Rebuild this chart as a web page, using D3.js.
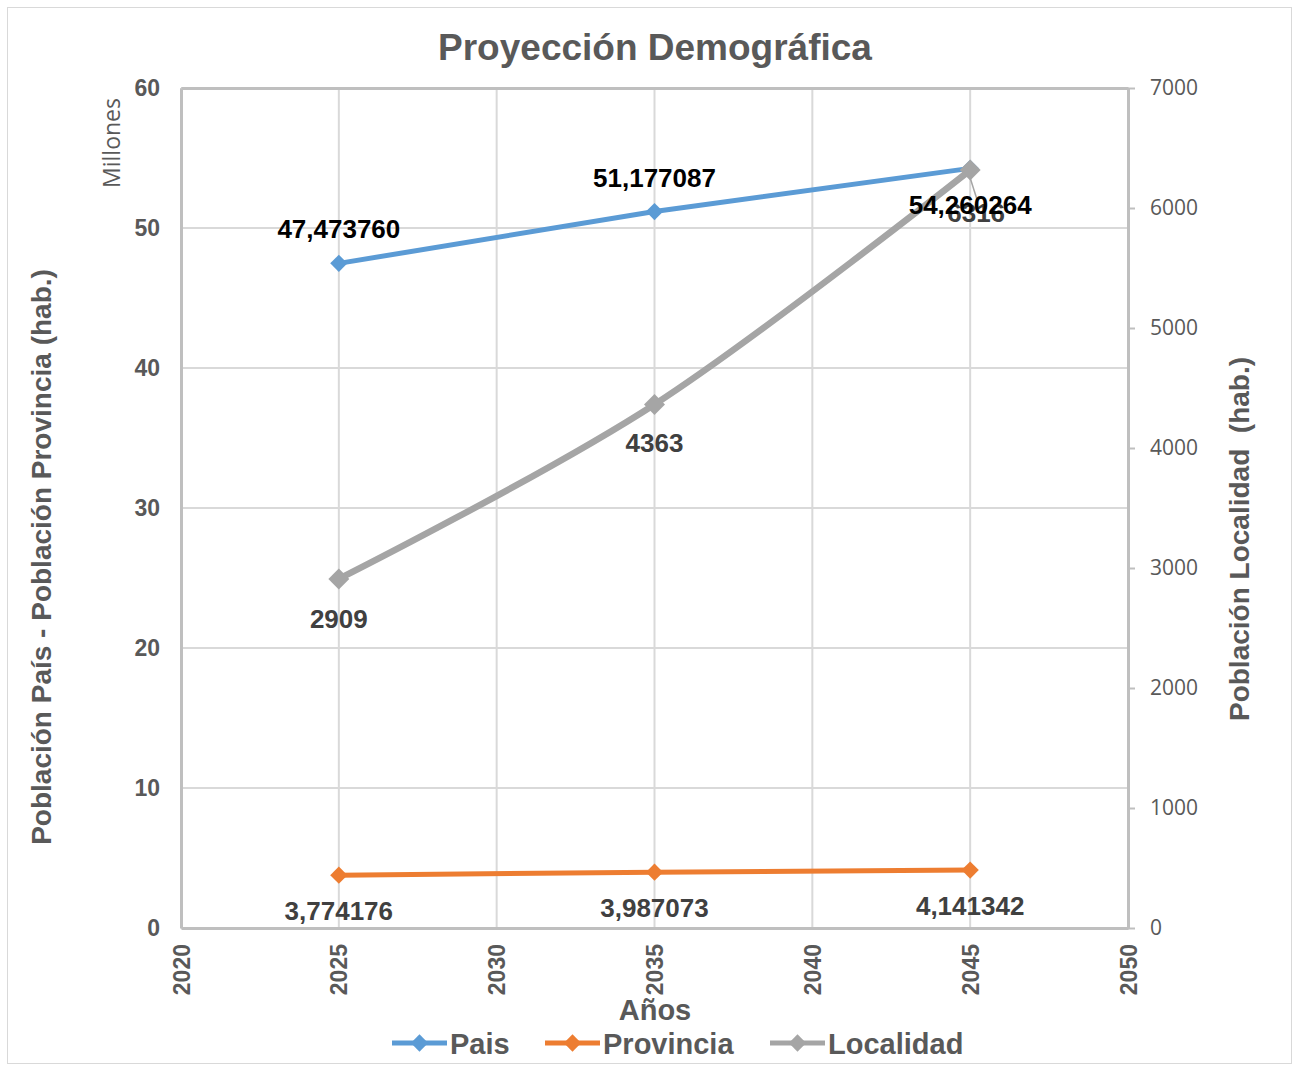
<!DOCTYPE html>
<html><head><meta charset="utf-8">
<script src="https://cdn.jsdelivr.net/npm/d3@7"></script>
<style>body{margin:0;background:#fff}svg{display:block}</style>
</head><body>
<svg id="c" width="1298" height="1066"></svg>
<script>
const years = [2025, 2035, 2045];
const pais = [47.473760, 51.177087, 54.260264];
const provincia = [3.774176, 3.987073, 4.141342];
const localidad = [2909, 4363, 6316];
const paisLabels = ["47,473760", "51,177087", "54,260264"];
const provLabels = ["3,774176", "3,987073", "4,141342"];
const locLabels = ["2909", "4363", "6316"];
const xTicks = [2020, 2025, 2030, 2035, 2040, 2045, 2050];
const yLeftTicks = [0, 10, 20, 30, 40, 50, 60];
const yRightTicks = [0, 1000, 2000, 3000, 4000, 5000, 6000, 7000];

const svg = d3.select("#c");
const L = 181, R = 1128, T = 88, B = 928;
const x = d3.scaleLinear().domain([2020, 2050]).range([L, R]);
const yL = d3.scaleLinear().domain([0, 60]).range([B, T]);
const yR = d3.scaleLinear().domain([0, 7000]).range([B, T]);
const grey = "#595959";
const bold = "'Liberation Sans', Arial, sans-serif";

// outer frame
svg.append("rect").attr("x", 7.5).attr("y", 7.5).attr("width", 1284).attr("height", 1056)
  .attr("fill", "#fff").attr("stroke", "#d9d9d9").attr("stroke-width", 1);

// gridlines
svg.append("g").selectAll("line").data(yLeftTicks).join("line")
  .attr("x1", L).attr("x2", R).attr("y1", d => yL(d)).attr("y2", d => yL(d))
  .attr("stroke", "#d9d9d9").attr("stroke-width", 2);
svg.append("g").selectAll("line").data(xTicks).join("line")
  .attr("y1", T).attr("y2", B).attr("x1", d => x(d)).attr("x2", d => x(d))
  .attr("stroke", "#d9d9d9").attr("stroke-width", 2);

// axes
const axL = svg.append("g").attr("transform", `translate(${L},0)`)
  .call(d3.axisLeft(yL).tickValues(yLeftTicks).tickSize(0).tickPadding(21));
axL.select(".domain").attr("stroke", "#bfbfbf").attr("stroke-width", 3);
axL.selectAll("text").attr("font-family", bold).attr("font-weight", "bold")
  .attr("font-size", 23).attr("fill", grey);

const axT = svg.append("g").attr("transform", `translate(0,${T})`)
  .call(d3.axisTop(x).tickValues([]).tickSize(0));
axT.select(".domain").attr("stroke", "#bfbfbf").attr("stroke-width", 3);

const axR = svg.append("g").attr("transform", `translate(${R},0)`)
  .call(d3.axisRight(yR).tickValues(yRightTicks).tickFormat(d3.format("d"))
    .tickSize(7).tickSizeOuter(0).tickPadding(15));
axR.select(".domain").attr("stroke", "#bfbfbf").attr("stroke-width", 3);
axR.selectAll("line").attr("stroke", "#bfbfbf").attr("stroke-width", 2);
axR.selectAll("text").attr("font-family", "'Open Sans', sans-serif")
  .attr("font-size", 21).attr("fill", grey);

const axB = svg.append("g").attr("transform", `translate(0,${B})`)
  .call(d3.axisBottom(x).tickValues(xTicks).tickFormat(d3.format("d")).tickSize(0));
axB.select(".domain").attr("stroke", "#bfbfbf").attr("stroke-width", 3);
axB.selectAll("text").attr("font-family", bold).attr("font-weight", "bold")
  .attr("font-size", 23).attr("fill", grey)
  .attr("transform", "rotate(-90)").attr("text-anchor", "end")
  .attr("x", -16).attr("y", 0).attr("dy", "0.35em");

// titles
svg.append("text").attr("x", 655).attr("y", 60).attr("text-anchor", "middle")
  .attr("font-family", bold).attr("font-weight", "bold").attr("font-size", 37)
  .attr("fill", grey).text("Proyección Demográfica");
svg.append("text").attr("transform", "translate(51,557) rotate(-90)").attr("text-anchor", "middle")
  .attr("font-family", bold).attr("font-weight", "bold").attr("font-size", 28)
  .attr("fill", grey).text("Población País - Población Provincia (hab.)");
svg.append("text").attr("transform", "translate(1249,539) rotate(-90)").attr("text-anchor", "middle")
  .attr("font-family", bold).attr("font-weight", "bold").attr("font-size", 28)
  .attr("fill", grey).style("white-space", "pre").text("Población Localidad  (hab.)");
svg.append("text").attr("transform", "translate(120,143) rotate(-90)").attr("text-anchor", "middle")
  .attr("font-family", "'Open Sans', sans-serif").attr("font-size", 23)
  .attr("fill", grey).text("Millones");
svg.append("text").attr("x", 655).attr("y", 1020).attr("text-anchor", "middle")
  .attr("font-family", bold).attr("font-weight", "bold").attr("font-size", 29)
  .attr("fill", grey).text("Años");

const diamond = d3.symbol().type(d3.symbolDiamond2);
function series(vals, yScale, color, width, curve, msize) {
  const line = d3.line().x((d, i) => x(years[i])).y(d => yScale(d)).curve(curve);
  svg.append("path").datum(vals).attr("d", line).attr("fill", "none")
    .attr("stroke", color).attr("stroke-width", width).attr("stroke-linejoin", "round");
  svg.append("g").selectAll("path").data(vals).join("path")
    .attr("transform", (d, i) => `translate(${x(years[i])},${yScale(d)})`)
    .attr("d", diamond.size(msize)).attr("fill", color);
}
series(pais, yL, "#5b9bd5", 5, d3.curveLinear, 190);
series(provincia, yL, "#ed7d31", 5, d3.curveLinear, 190);
series(localidad, yR, "#a5a5a5", 6.5, d3.curveCardinal.tension(0), 280);

// leader line for 6316
svg.append("line").attr("x1", x(2045)).attr("y1", yR(localidad[2]) + 8)
  .attr("x2", x(2045) + 7).attr("y2", yR(localidad[2]) + 30)
  .attr("stroke", "#a5a5a5").attr("stroke-width", 1.5);

// label offsets (layout)
const locOff = [[0, 49], [0, 48], [6, 52]];
const paisOff = [[0, -25], [0, -25], [0, 46]];
const provOff = [[0, 45], [0, 45], [0, 45]];
function labels(vals, yScale, texts, off, color) {
  svg.append("g").selectAll("text").data(vals).join("text")
    .attr("x", (d, i) => x(years[i]) + off[i][0])
    .attr("y", (d, i) => yScale(d) + off[i][1])
    .attr("text-anchor", "middle").attr("font-family", bold).attr("font-weight", "bold")
    .attr("font-size", 26).attr("fill", color).text((d, i) => texts[i]);
}
labels(localidad, yR, locLabels, locOff, "#404040");
labels(pais, yL, paisLabels, paisOff, "#000");
labels(provincia, yL, provLabels, provOff, "#404040");

// legend
const legend = [["Pais", "#5b9bd5", 392], ["Provincia", "#ed7d31", 545], ["Localidad", "#a5a5a5", 770]];
const lg = svg.append("g").selectAll("g").data(legend).join("g")
  .attr("transform", d => `translate(${d[2]},1043)`);
lg.append("line").attr("x1", 0).attr("x2", 55).attr("stroke", d => d[1]).attr("stroke-width", 5);
lg.append("path").attr("transform", "translate(27.5,0)").attr("d", diamond.size(190)).attr("fill", d => d[1]);
lg.append("text").attr("x", 58).attr("y", 11).attr("font-family", bold).attr("font-weight", "bold")
  .attr("font-size", 29).attr("fill", grey).text(d => d[0]);
</script>
</body></html>
